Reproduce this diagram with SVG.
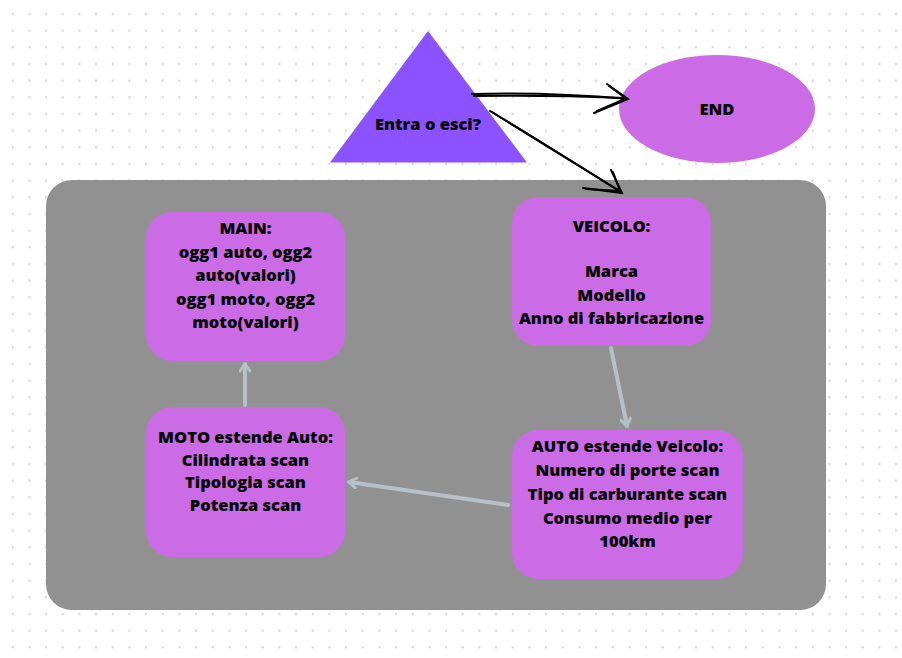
<svg xmlns="http://www.w3.org/2000/svg" width="902" height="658" viewBox="0 0 902 658">
<defs>
<pattern id="dots" x="0" y="0" width="16.667" height="16.667" patternUnits="userSpaceOnUse">
<rect x="11.7" y="13" width="2" height="2" fill="#cdd1da"/>
</pattern>
<marker id="ah" viewBox="0 0 12 12" refX="9" refY="6" markerWidth="12" markerHeight="12" markerUnits="userSpaceOnUse" orient="auto">
<path d="M2,1 L9,6 L2,11" fill="none" stroke="#b5c0c8" stroke-width="3" stroke-linecap="round" stroke-linejoin="round"/>
</marker>
</defs>
<style>
.box{fill:#cb6ce6}
.t{font-family:"Open Sans","Noto Sans","DejaVu Sans",sans-serif;font-weight:800;font-size:16.5px;fill:#000;text-anchor:middle}
.c{fill:none;stroke:#b5c0c8;stroke-width:4;stroke-linecap:round;marker-end:url(#ah)}
.k{fill:none;stroke:#000;stroke-width:2;stroke-linecap:round}
</style>
<rect width="902" height="658" fill="#ffffff"/>
<rect width="902" height="658" fill="url(#dots)"/>
<rect id="panel" x="46" y="180" width="780" height="430" rx="26" fill="#919191"/>

<g id="decision">
<polygon points="428,31 330,162.5 527,162.5" fill="#8c52ff"/>
<text class="t" x="428" y="130">Entra o esci?</text>
</g>
<g id="end">
<ellipse cx="717" cy="109" rx="98" ry="54" class="box"/>
<text class="t" x="717" y="115">END</text>
</g>
<g id="main">
<rect x="146" y="212" width="199" height="149" rx="26" class="box"/>
<text class="t" x="245.5" y="234">MAIN:</text>
<text class="t" x="245.5" y="258">ogg1 auto, ogg2</text>
<text class="t" x="245.5" y="281">auto(valori)</text>
<text class="t" x="245.5" y="305">ogg1 moto, ogg2</text>
<text class="t" x="245.5" y="328">moto(valori)</text>
</g>
<g id="veicolo">
<rect x="512" y="197" width="199" height="149" rx="26" class="box"/>
<text class="t" x="611.5" y="232">VEICOLO:</text>
<text class="t" x="611.5" y="277">Marca</text>
<text class="t" x="611.5" y="301">Modello</text>
<text class="t" x="611.5" y="324">Anno di fabbricazione</text>
</g>
<g id="auto">
<rect x="512" y="430" width="231" height="149" rx="26" class="box"/>
<text class="t" x="627.5" y="452">AUTO estende Veicolo:</text>
<text class="t" x="627.5" y="476">Numero di porte scan</text>
<text class="t" x="627.5" y="500">Tipo di carburante scan</text>
<text class="t" x="627.5" y="524">Consumo medio per</text>
<text class="t" x="627.5" y="547">100km</text>
</g>
<g id="moto">
<rect x="146" y="407" width="199" height="150" rx="26" class="box"/>
<text class="t" x="245.5" y="443">MOTO estende Auto:</text>
<text class="t" x="245.5" y="466">Cilindrata scan</text>
<text class="t" x="245.5" y="488">Tipologia scan</text>
<text class="t" x="245.5" y="511">Potenza scan</text>
</g>

<g id="connectors">
<line class="c" x1="611" y1="348" x2="627" y2="426"/>
<line class="c" x1="508" y1="505" x2="349" y2="482"/>
<line class="c" x1="245" y1="405" x2="245" y2="364"/>
<path class="k" d="M472,94 Q550,92 628,99"/>
<path class="k" d="M474,96 Q552,95 626,98"/>
<path class="k" d="M607,84 L628,99 L594,113"/>
<path class="k" d="M609,86 L626,98.5 L597,111"/>
<path class="k" d="M490,111 Q555,150 622,193"/>
<path class="k" d="M492,112 Q556,152 620,191"/>
<path class="k" d="M611,170 L622,193 L583,188"/>
<path class="k" d="M613,172 L620,191 L586,189"/>
</g>
</svg>
